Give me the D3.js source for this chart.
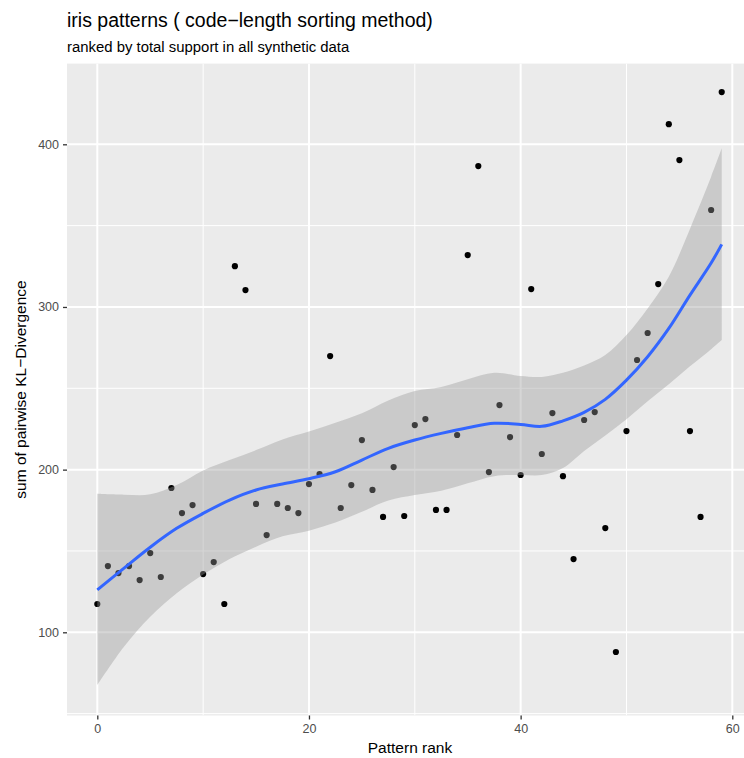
<!DOCTYPE html>
<html>
<head>
<meta charset="utf-8">
<script src="https://cdn.jsdelivr.net/npm/d3@7"></script>
<style>
  html, body { margin: 0; padding: 0; background: #ffffff; }
  svg { display: block; font-family: "Liberation Sans", Arial, Helvetica, sans-serif; }
</style>
</head>
<body>
<svg id="chart" width="744" height="758"></svg>
<script>
// Pattern rank (x) and summed pairwise KL divergence (y) for each pattern
const ranks = d3.range(0, 60);
const klSums = [
  117.4, 140.7, 136.4, 140.7, 132.1, 148.7, 134.0, 188.7, 173.3, 178.2,
  135.8, 143.2, 117.4, 325.1, 310.4, 178.9, 159.8, 178.9, 176.4, 173.3,
  191.1, 197.3, 269.8, 176.4, 190.5, 218.2, 187.5, 170.9, 201.6, 171.5,
  227.4, 231.1, 175.2, 175.2, 221.3, 331.9, 386.6, 198.5, 239.7, 220.0,
  196.7, 311.0, 209.6, 234.8, 196.0, 145.0, 230.5, 235.4, 164.1, 87.9,
  223.7, 267.4, 284.0, 314.1, 412.4, 390.3, 223.7, 170.9, 359.6, 432.1
];

// Loess trend with its confidence band, sampled along the rank axis
const fitRanks = [0, 2.5, 5, 7.5, 10, 12.5, 15, 17.5, 20, 22.5, 25, 27.5, 30, 32.5,
  35, 37.5, 40, 42, 44, 46, 48, 50, 52, 54, 56, 58, 59];
const fitValues = [126.1, 139.3, 152.3, 163.9, 173.1, 181.3, 187.5, 191.2, 194.4, 198.7,
  205.9, 213.1, 218.2, 222.3, 225.8, 228.5, 227.8, 226.6, 230.0, 235.2, 243.2, 255.0,
  269.4, 286.8, 307.3, 327.0, 338.5];
const fitUpper = [185.1, 184.6, 184.8, 190.5, 199.5, 205.9, 212.0, 218.6, 223.5, 228.8,
  234.6, 242.5, 248.3, 250.8, 255.5, 259.5, 257.5, 257.0, 259.5, 264.0, 270.4, 282.7,
  299.1, 318.6, 348.0, 380.0, 397.5];
const fitLower = [67.6, 91.0, 109.6, 124.0, 135.5, 145.0, 152.6, 159.0, 162.5, 167.5,
  174.1, 181.0, 184.4, 187.0, 191.6, 196.0, 196.7, 196.7, 201.0, 211.5, 221.0, 231.0,
  242.0, 252.5, 263.5, 274.0, 279.7];

// Axis breaks
const xTicks = [0, 20, 40, 60];
const xMinor = [10, 30, 50];
const yTicks = [100, 200, 300, 400];
const yMinor = [50, 150, 250, 350, 450];

const titleText = "iris patterns ( code\u2212length sorting method)";
const subtitleText = "ranked by total support in all synthetic data";
const xTitle = "Pattern rank";
const yTitle = "sum of pairwise KL\u2212Divergence";

const svg = d3.select("#chart");

// Panel geometry
const panel = { left: 67, right: 753, top: 63.5, bottom: 715.5 };

const x = d3.scaleLinear().domain([0, 60]).range([97.3, 732.3]);
const y = d3.scaleLinear().domain([100, 400]).range([632.3, 144.3]);

// Panel background
svg.append("rect")
  .attr("x", panel.left).attr("y", panel.top)
  .attr("width", panel.right - panel.left)
  .attr("height", panel.bottom - panel.top)
  .attr("fill", "#EBEBEB");

svg.append("clipPath").attr("id", "panel-clip")
  .append("rect")
  .attr("x", panel.left).attr("y", panel.top)
  .attr("width", panel.right - panel.left)
  .attr("height", panel.bottom - panel.top);

const grid = svg.append("g").attr("clip-path", "url(#panel-clip)");

// Minor grid
grid.selectAll(".xminor").data(xMinor).join("line")
  .attr("x1", d => x(d)).attr("x2", d => x(d))
  .attr("y1", panel.top).attr("y2", panel.bottom)
  .attr("stroke", "#ffffff").attr("stroke-width", 1);
grid.selectAll(".yminor").data(yMinor).join("line")
  .attr("y1", d => y(d)).attr("y2", d => y(d))
  .attr("x1", panel.left).attr("x2", panel.right)
  .attr("stroke", "#ffffff").attr("stroke-width", 1);

// Major grid
grid.selectAll(".xmajor").data(xTicks).join("line")
  .attr("x1", d => x(d)).attr("x2", d => x(d))
  .attr("y1", panel.top).attr("y2", panel.bottom)
  .attr("stroke", "#ffffff").attr("stroke-width", 2);
grid.selectAll(".ymajor").data(yTicks).join("line")
  .attr("y1", d => y(d)).attr("y2", d => y(d))
  .attr("x1", panel.left).attr("x2", panel.right)
  .attr("stroke", "#ffffff").attr("stroke-width", 2);

const plot = svg.append("g").attr("clip-path", "url(#panel-clip)");

// Points
plot.selectAll("circle").data(ranks).join("circle")
  .attr("cx", d => x(d))
  .attr("cy", (d, i) => y(klSums[i]))
  .attr("r", 3.1)
  .attr("fill", "#000000");

// Confidence band (drawn over the points, semi-transparent)
const band = fitRanks.map((r, i) => ({ r, lo: fitLower[i], hi: fitUpper[i] }));
plot.append("path")
  .datum(band)
  .attr("d", d3.area()
    .x(d => x(d.r))
    .y0(d => y(d.lo))
    .y1(d => y(d.hi))
    .curve(d3.curveCatmullRom))
  .attr("fill", "#999999")
  .attr("fill-opacity", 0.4);

// Trend line
const fit = fitRanks.map((r, i) => ({ r, v: fitValues[i] }));
plot.append("path")
  .datum(fit)
  .attr("d", d3.line()
    .x(d => x(d.r))
    .y(d => y(d.v))
    .curve(d3.curveCatmullRom))
  .attr("fill", "none")
  .attr("stroke", "#3366FF")
  .attr("stroke-width", 3);

// Axes
const xAxis = d3.axisBottom(x).tickValues(xTicks).tickSize(4).tickPadding(5);
const gx = svg.append("g").attr("transform", `translate(0,${panel.bottom})`).call(xAxis);
gx.select(".domain").remove();
gx.selectAll(".tick line").attr("stroke", "#333333").attr("stroke-width", 1.3);
gx.selectAll(".tick text").attr("fill", "#4D4D4D").attr("font-size", 12.5)
  .attr("font-family", "Liberation Sans, Arial, sans-serif");

const yAxis = d3.axisLeft(y).tickValues(yTicks).tickSize(4).tickPadding(4);
const gy = svg.append("g").attr("transform", `translate(${panel.left},0)`).call(yAxis);
gy.select(".domain").remove();
gy.selectAll(".tick line").attr("stroke", "#333333").attr("stroke-width", 1.3);
gy.selectAll(".tick text").attr("fill", "#4D4D4D").attr("font-size", 12.5)
  .attr("font-family", "Liberation Sans, Arial, sans-serif");

// Titles
svg.append("text")
  .attr("x", 67).attr("y", 26.7)
  .attr("font-size", 19.5)
  .attr("fill", "#000000")
  .text(titleText);

svg.append("text")
  .attr("x", 67).attr("y", 51.7)
  .attr("font-size", 14.9)
  .attr("fill", "#000000")
  .text(subtitleText);

svg.append("text")
  .attr("x", (panel.left + panel.right) / 2)
  .attr("y", 753.3)
  .attr("text-anchor", "middle")
  .attr("font-size", 15.5)
  .attr("fill", "#000000")
  .text(xTitle);

svg.append("text")
  .attr("transform", `translate(25.5,${(panel.top + panel.bottom) / 2}) rotate(-90)`)
  .attr("text-anchor", "middle")
  .attr("font-size", 15.5)
  .attr("fill", "#000000")
  .text(yTitle);
</script>
</body>
</html>
